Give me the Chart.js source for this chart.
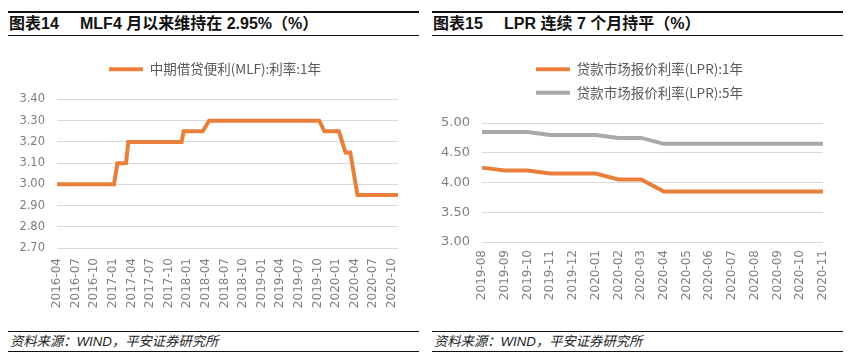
<!DOCTYPE html>
<html lang="zh-CN">
<head>
<meta charset="UTF-8">
<title>MLF 与 LPR</title>
<script src="https://cdn.jsdelivr.net/npm/chart.js"></script>
<style>
    body {
        margin: 0;
        width: 850px;
        height: 362px;
        background: #fff;
        position: relative;
        overflow: hidden;
        font-family: "Liberation Sans", "Noto Sans CJK SC", sans-serif;
    }
    .panel {
        position: absolute;
        top: 0;
        width: 411px;
        height: 362px;
    }
    .head {
        position: absolute;
        left: 0; right: 0;
        top: 11px;
        height: 22px;
        line-height: 22px;
        border-top: 2px solid #111;
        border-bottom: 1px solid #111;
        font-size: 16px;
        font-weight: bold;
        color: #111;
        padding-left: 1px;
        white-space: nowrap;
    }
    .head .no {
        display: inline-block;
        width: 71px;
    }
    .box {
        position: absolute;
        left: 0;
        top: 44px;
        width: 411px;
        height: 282px;
    }
    .foot {
        position: absolute;
        left: 0; right: 0;
        top: 331px;
        height: 19px;
        line-height: 19px;
        border-top: 1px solid #111;
        border-bottom: 1px solid #111;
        font-size: 13.3px;
        font-style: italic;
        color: #222;
        padding-left: 2px;
        white-space: nowrap;
    }
</style>
</head>
<body>
<div class="panel" style="left:8px">
    <div class="head"><span class="no">图表14</span><span>MLF4 月以来维持在 2.95%（%）</span></div>
    <div class="box"><canvas id="mlfChart"></canvas></div>
    <div class="foot">资料来源：WIND，平安证券研究所</div>
</div>
<div class="panel" style="left:432px">
    <div class="head"><span class="no">图表15</span><span>LPR 连续 7 个月持平（%）</span></div>
    <div class="box"><canvas id="lprChart"></canvas></div>
    <div class="foot">资料来源：WIND，平安证券研究所</div>
</div>

<script>
// MLF 1年期利率（操作日期 / 利率）
const mlfDates = ['2016-04-01', '2017-01-07', '2017-01-23', '2017-03-05', '2017-03-16',
    '2017-12-04', '2017-12-14', '2018-03-16', '2018-04-17', '2019-10-10', '2019-11-05',
    '2020-01-15', '2020-02-17', '2020-03-10', '2020-04-15', '2020-11-01'];
const mlfRate = [3.00, 3.00, 3.10, 3.10, 3.20, 3.20, 3.25, 3.25, 3.30, 3.30, 3.25,
    3.25, 3.15, 3.15, 2.95, 2.95];
const mlfTickLabels = ['2016-04', '2016-07', '2016-10', '2017-01', '2017-04', '2017-07',
    '2017-10', '2018-01', '2018-04', '2018-07', '2018-10', '2019-01', '2019-04', '2019-07',
    '2019-10', '2020-01', '2020-04', '2020-07', '2020-10'];

// LPR 月度
const lprMonths = ['2019-08', '2019-09', '2019-10', '2019-11', '2019-12', '2020-01', '2020-02',
    '2020-03', '2020-04', '2020-05', '2020-06', '2020-07', '2020-08', '2020-09', '2020-10', '2020-11'];
const lpr1y = [4.25, 4.20, 4.20, 4.15, 4.15, 4.15, 4.05, 4.05, 3.85, 3.85, 3.85, 3.85, 3.85, 3.85, 3.85, 3.85];
const lpr5y = [4.85, 4.85, 4.85, 4.80, 4.80, 4.80, 4.75, 4.75, 4.65, 4.65, 4.65, 4.65, 4.65, 4.65, 4.65, 4.65];

const ORANGE = '#E8803C';
const GREY = '#A9A9A9';
const TICK_COLOR = '#7f7f7f';
const TICK_FONT = 'DejaVu Sans';

// months since 2016-04
function monthIndex(d) {
    const [y, m, day] = d.split('-').map(Number);
    return (y - 2016) * 12 + (m - 4) + (day - 1) / 30;
}

// extra space under legend
const legendGap = {
    id: 'legendGap',
    beforeInit(chart) {
        const fit = chart.legend.fit;
        chart.legend.fit = function () {
            fit.bind(chart.legend)();
            this.height += 13.5;
        };
    }
};

function legendOpts() {
    return {
        display: true,
        position: 'top',
        labels: {
            boxWidth: 34,
            boxHeight: 4,
            padding: 10,
            color: '#595959',
            font: { family: 'Noto Sans CJK SC', size: 13.5 },
            generateLabels(chart) {
                return Chart.defaults.plugins.legend.labels.generateLabels(chart).map(l => {
                    l.lineWidth = 0;
                    l.fillStyle = l.strokeStyle;
                    return l;
                });
            }
        }
    };
}

new Chart(document.getElementById('mlfChart'), {
    type: 'line',
    data: {
        datasets: [{
            label: '中期借贷便利(MLF):利率:1年',
            data: mlfDates.map((d, i) => ({ x: monthIndex(d), y: mlfRate[i] })),
            borderColor: ORANGE,
            backgroundColor: ORANGE,
            borderWidth: 4,
            pointRadius: 0,
            tension: 0
        }]
    },
    options: {
        responsive: true,
        maintainAspectRatio: false,
        animation: false,
        layout: { padding: { top: 8.5, right: 0, bottom: 0, left: 3 } },
        plugins: { legend: legendOpts(), tooltip: { enabled: false } },
        scales: {
            x: {
                type: 'linear',
                min: 0,
                max: 55,
                grid: { display: false, drawTicks: false },
                border: { display: false },
                ticks: {
                    stepSize: 3,
                    includeBounds: false,
                    autoSkip: false,
                    minRotation: 90,
                    maxRotation: 90,
                    padding: 10,
                    color: TICK_COLOR,
                    font: { family: TICK_FONT, size: 12 },
                    callback: v => mlfTickLabels[Math.round(v / 3)]
                },
                afterFit(scale) { scale.height = 78; scale.paddingRight = 21; }
            },
            y: {
                min: 2.7,
                max: 3.4,
                grid: { color: '#d9d9d9', drawTicks: false },
                border: { display: false },
                ticks: {
                    stepSize: 0.1,
                    padding: 12,
                    color: TICK_COLOR,
                    font: { family: TICK_FONT, size: 11.5 },
                    callback: v => v.toFixed(2)
                },
                afterFit(scale) { scale.width = 46; }
            }
        }
    },
    plugins: [legendGap]
});

new Chart(document.getElementById('lprChart'), {
    type: 'line',
    data: {
        labels: lprMonths,
        datasets: [{
            label: '贷款市场报价利率(LPR):1年',
            data: lpr1y,
            borderColor: ORANGE,
            backgroundColor: ORANGE,
            borderWidth: 4,
            pointRadius: 0,
            tension: 0
        }, {
            label: '贷款市场报价利率(LPR):5年',
            data: lpr5y,
            borderColor: GREY,
            backgroundColor: GREY,
            borderWidth: 4,
            pointRadius: 0,
            tension: 0
        }]
    },
    options: {
        responsive: true,
        maintainAspectRatio: false,
        animation: false,
        layout: { padding: { top: 8.5, right: 0, bottom: 0, left: 4 } },
        plugins: { legend: legendOpts(), tooltip: { enabled: false } },
        scales: {
            x: {
                offset: false,
                grid: { display: false, drawTicks: false },
                border: { display: false },
                ticks: {
                    autoSkip: false,
                    minRotation: 90,
                    maxRotation: 90,
                    padding: 8,
                    color: TICK_COLOR,
                    font: { family: TICK_FONT, size: 12 }
                },
                afterFit(scale) { scale.height = 84; scale.paddingRight = 20; }
            },
            y: {
                min: 3,
                max: 5,
                grid: { color: '#d9d9d9', drawTicks: false },
                border: { display: false },
                ticks: {
                    stepSize: 0.5,
                    padding: 12,
                    color: TICK_COLOR,
                    font: { family: TICK_FONT, size: 13 },
                    callback: v => v.toFixed(2)
                },
                afterFit(scale) { scale.width = 46; }
            }
        }
    },
    plugins: [legendGap]
});
</script>
</body>
</html>
